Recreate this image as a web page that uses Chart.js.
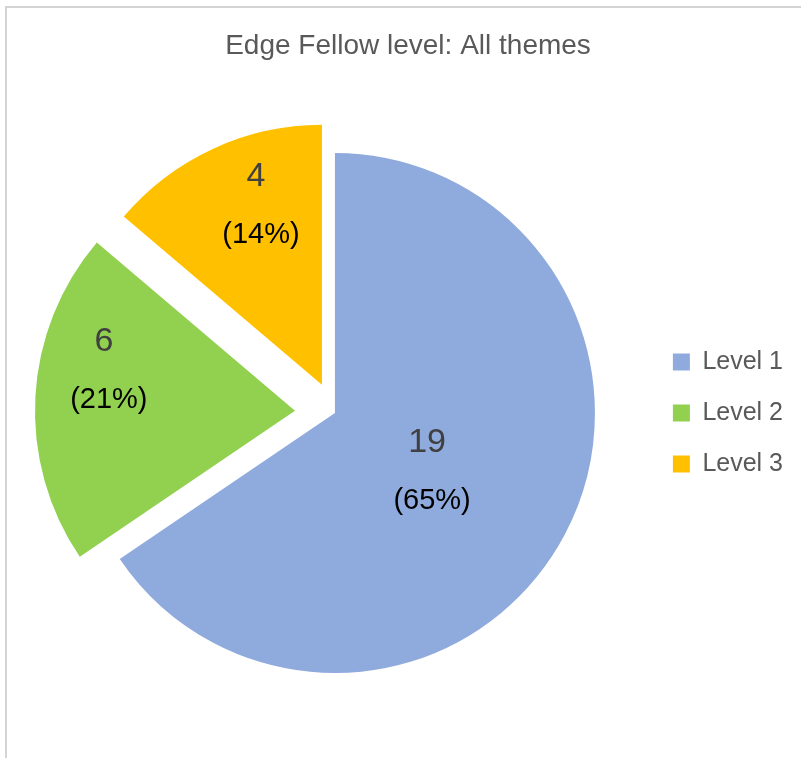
<!DOCTYPE html>
<html><head><meta charset="utf-8">
<script src="https://cdn.jsdelivr.net/npm/chart.js@4.4.0/dist/chart.umd.min.js"></script>
<style>
html,body{margin:0;padding:0;background:#fff;}
#wrap{position:relative;width:801px;height:758px;overflow:hidden;}
#frame{position:absolute;left:5px;top:6px;width:900px;height:900px;border-top:2px solid #d4d4d4;border-left:2px solid #d4d4d4;}
canvas{position:absolute;left:0;top:0;}
</style></head><body>
<div id="wrap"><div id="frame"></div><canvas id="c" width="801" height="758"></canvas></div>
<script>
const categories = ['Level 1', 'Level 2', 'Level 3'];
const counts = [19, 6, 4];
const percents = [65, 21, 14];
const colors = ['#8FAADC', '#92D050', '#FFC000'];
const titleText = 'Edge Fellow level: All themes';

const explodePlugin = {
  id: 'explode',
  beforeDatasetDraw(chart, args, opts) {
    const ctx = chart.ctx;
    const dist = opts.distances || [];
    args.meta.data.forEach((arc, i) => {
      const p = arc.getProps(['startAngle', 'endAngle'], true);
      const mid = (p.startAngle + p.endAngle) / 2;
      const d = dist[i] || 0;
      ctx.save();
      ctx.translate(Math.cos(mid) * d, Math.sin(mid) * d);
      arc.draw(ctx, chart.chartArea);
      ctx.restore();
    });
    return false;
  }
};

const labelPlugin = {
  id: 'sliceLabels',
  afterDatasetsDraw(chart, args, opts) {
    const ctx = chart.ctx;
    const meta = chart.getDatasetMeta(0);
    const ds = chart.data.datasets[0];
    const explode = chart.options.plugins.explode.distances;
    meta.data.forEach((arc, i) => {
      const p = arc.getProps(['x', 'y', 'startAngle', 'endAngle', 'outerRadius'], true);
      const mid = (p.startAngle + p.endAngle) / 2;
      const d = explode[i] || 0;
      const cx = p.x + Math.cos(mid) * d, cy = p.y + Math.sin(mid) * d;
      const af = opts.anchors[i][0], rf = opts.anchors[i][1];
      const a = p.startAngle + (p.endAngle - p.startAngle) * af;
      const lx = cx + Math.cos(a) * p.outerRadius * rf;
      const ly = cy + Math.sin(a) * p.outerRadius * rf;
      ctx.save();
      ctx.textAlign = 'center';
      ctx.textBaseline = 'middle';
      ctx.font = '34px "Liberation Sans"';
      ctx.fillStyle = '#404040';
      ctx.fillText(String(ds.data[i]), lx - 3, ly - opts.gap);
      ctx.font = '29px "Liberation Sans"';
      ctx.fillStyle = '#000000';
      ctx.fillText('(' + percents[i] + '%)', lx + 2, ly + opts.gap);
      ctx.restore();
    });
  }
};

new Chart(document.getElementById('c'), {
  type: 'pie',
  data: {
    labels: categories,
    datasets: [{
      data: counts,
      backgroundColor: colors,
      borderWidth: 0,
      hoverOffset: 0
    }]
  },
  options: {
    responsive: false,
    animation: false,
    events: [],
    layout: { padding: { left: 23, right: 8, top: 0, bottom: 85 } },
    plugins: {
      title: {
        display: true,
        text: titleText,
        color: '#595959',
        font: { family: 'Liberation Sans', size: 28, weight: 'normal', lineHeight: 1.2 },
        padding: { top: 29, bottom: 90.4 }
      },
      legend: {
        position: 'right',
        fullSize: false,
        labels: {
          font: { family: 'Liberation Sans', size: 25 },
          color: '#595959',
          boxWidth: 17,
          boxHeight: 17,
          padding: 26
        }
      },
      tooltip: { enabled: false },
      explode: { distances: [0, 40, 31] },
      sliceLabels: {
        anchors: [[0.516, 0.43], [0.62, 0.74], [0.61, 0.73]],
        gap: 29.5
      }
    }
  },
  plugins: [explodePlugin, labelPlugin]
});
</script>
</body></html>
